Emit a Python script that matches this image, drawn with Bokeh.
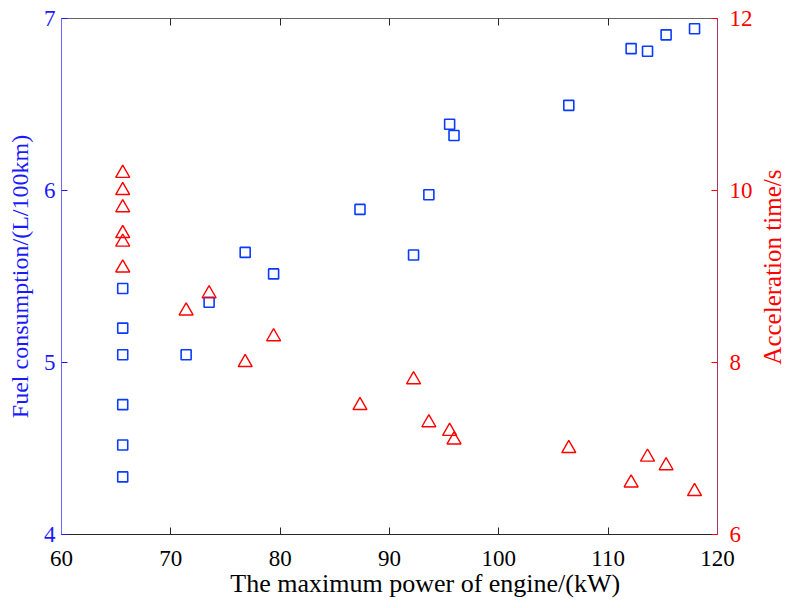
from bokeh.plotting import figure
from bokeh.layouts import row
from bokeh.models import Range1d, LinearAxis, SingleIntervalTicker, FixedTicker, ColumnDataSource
from bokeh.embed import file_html
from bokeh.resources import INLINE

# Data
power = [65.6, 65.6, 65.6, 65.6, 65.6, 65.6, 71.4, 73.5, 76.8, 79.4,
         87.3, 92.2, 93.6, 95.5, 95.9, 106.4, 112.1, 113.6, 115.3, 117.9]
fuel = [4.335, 4.52, 4.755, 5.045, 5.20, 5.43, 5.045, 5.35, 5.64, 5.515,
        5.89, 5.625, 5.975, 6.385, 6.32, 6.495, 6.825, 6.81, 6.905, 6.94]
accel = [10.2, 10.0, 9.8, 9.5, 9.4, 9.1, 8.6, 8.8, 8.0, 8.3,
         7.5, 7.8, 7.3, 7.2, 7.1, 7.0, 6.6, 6.9, 6.8, 6.5]

x_title = "The maximum power of engine/(kW)"
y_left_title = "Fuel consumption/(L/100km)"
y_right_title = "Acceleration time/s"

FONT = "Liberation Serif"
TICK_FS = "23px"

src = ColumnDataSource(dict(power=power, fuel=fuel, accel=accel))

p = figure(output_backend="svg", toolbar_location=None,
           width=755, height=608,
           min_border_left=61, min_border_right=36,
           min_border_top=18, min_border_bottom=74,
           x_range=Range1d(60, 120), y_range=Range1d(4, 7),
           background_fill_color="white", border_fill_color="white")
p.extra_y_ranges = {"acc": Range1d(6, 12)}
p.outline_line_color = None
p.xgrid.visible = False
p.ygrid.visible = False

# bottom axis (title sits right of centre in the reference; padded with no-break spaces)
xa = p.xaxis[0]
xa.ticker = SingleIntervalTicker(interval=10)
xa.axis_label = "\u00a0" * 11 + x_title
xa.axis_label_text_font = FONT
xa.axis_label_text_font_size = "26px"
xa.axis_label_text_font_style = "normal"
xa.axis_label_text_color = "black"
xa.axis_label_standoff = 0
xa.major_label_text_font = FONT
xa.major_label_text_font_size = TICK_FS
xa.major_label_text_color = "black"
xa.major_label_standoff = 16
xa.major_tick_in = 7
xa.major_tick_out = 0
xa.minor_tick_in = 0
xa.minor_tick_out = 0
xa.axis_line_color = "#262626"
xa.major_tick_line_color = "#262626"

# left axis
ya = p.yaxis[0]
ya.ticker = SingleIntervalTicker(interval=1)
ya.axis_label = y_left_title
ya.axis_label_text_font = FONT
ya.axis_label_text_font_size = "24px"
ya.axis_label_text_font_style = "normal"
ya.axis_label_text_color = "#1a1aff"
ya.axis_label_standoff = 8
ya.major_label_text_font = FONT
ya.major_label_text_font_size = TICK_FS
ya.major_label_text_color = "#1a1aff"
ya.major_label_standoff = 6
ya.major_tick_in = 6
ya.major_tick_out = 0
ya.minor_tick_in = 0
ya.minor_tick_out = 0
ya.axis_line_color = "#6a6aff"
ya.major_tick_line_color = "#1a1aff"

# top axis (ticks only, labels not drawn)
ta = LinearAxis(ticker=SingleIntervalTicker(interval=10),
                major_label_text_font_size="1px", major_label_text_color=None,
                major_label_standoff=0,
                major_tick_in=7, major_tick_out=0, minor_tick_in=0, minor_tick_out=0,
                axis_line_color="#666666", major_tick_line_color="#262626")
p.add_layout(ta, "above")

# right axis: ticks and numbers
ra = LinearAxis(y_range_name="acc", ticker=SingleIntervalTicker(interval=2),
                major_label_text_font=FONT, major_label_text_font_size=TICK_FS,
                major_label_text_color="#ff0000", major_label_standoff=12,
                major_tick_in=6, major_tick_out=0, minor_tick_in=0, minor_tick_out=0,
                axis_line_color="#b0306a", major_tick_line_color="#ff0000")
p.add_layout(ra, "right")

p.scatter("power", "fuel", source=src, marker="square", size=10,
          fill_color=None, line_color="#0a3cff", line_width=1.6)
p.scatter("power", "accel", source=src, y_range_name="acc", marker="triangle", size=14,
          fill_color=None, line_color="#ff0000", line_width=1.4)

# narrow side panel carrying the right-hand title, reading bottom-to-top
p2 = figure(output_backend="svg", toolbar_location=None,
            width=30, height=608,
            min_border_left=29, min_border_right=0,
            min_border_top=18, min_border_bottom=74,
            x_range=Range1d(0, 1), y_range=Range1d(6, 12),
            background_fill_color="white", border_fill_color="white")
p2.outline_line_color = None
p2.xaxis.visible = False
p2.xgrid.visible = False
p2.ygrid.visible = False
la = p2.yaxis[0]
la.ticker = FixedTicker(ticks=[])
la.axis_label = "\u00a0" * 3 + y_right_title
la.axis_label_text_font = FONT
la.axis_label_text_font_size = "25px"
la.axis_label_text_font_style = "normal"
la.axis_label_text_color = "#ff0000"
la.axis_label_standoff = 0
la.major_label_text_font_size = "1px"
la.major_label_text_color = None
la.major_label_standoff = 0
la.axis_line_color = None
la.major_tick_line_color = None
la.minor_tick_line_color = None

layout = row(p, p2)
open("out.html", "w").write(file_html(layout, INLINE))
